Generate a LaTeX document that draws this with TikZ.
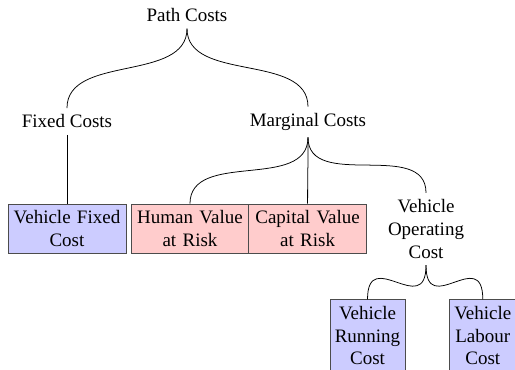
\documentclass[tikz,border=0pt]{standalone}
\usepackage{fontspec}
\setmainfont{Liberation Serif}
\usepackage{xcolor}
\definecolor{lightb}{rgb}{0.8,0.8,1}
\definecolor{lightr}{rgb}{1,0.8,0.8}
\tikzset{
  cost/.style={align=center},
  costbox/.style={draw=black!70, align=center, inner xsep=2.5pt},
  widebox/.style={costbox, text width=57pt}
}

\begin{document}
\begin{tikzpicture}
\useasboundingbox (0,0) rectangle (9.526,-6.844);
\node[cost] (path) at (3.459,-0.281) {Path Costs};
  \node[cost] (fixed) at (1.239,-2.247) {Fixed Costs};
  \node[cost] (marginal) at (5.697,-2.257) {Marginal Costs};
  \node[widebox, fill=lightb] (vfixed) at (1.239,-4.227) {Vehicle Fixed\\Cost};
  \node[widebox, fill=lightr] (human) at (3.514,-4.227) {Human Value\\at Risk};
  \node[widebox, fill=lightr] (capital) at (5.690,-4.227) {Capital Value\\at Risk};
  \node[cost] (operating) at (7.880,-4.236) {Vehicle\\Operating\\Cost};
  \node[costbox, fill=lightb] (running) at (6.798,-6.206) {Vehicle\\Running\\Cost};
  \node[costbox, fill=lightb] (labour) at (8.930,-6.206) {Vehicle\\Labour\\Cost};
\draw (path.south) .. controls +(0,-1cm) and +(0,1cm) .. (fixed.north);
\draw (path.south) .. controls +(0,-1cm) and +(0,1cm) .. (marginal.north);
\draw (fixed.south) .. controls +(0,-1cm) and +(0,1cm) .. (vfixed.north);
\draw (marginal.south) .. controls +(0,-1cm) and +(0,1cm) .. (human.north);
\draw (marginal.south) .. controls +(0,-1cm) and +(0,1cm) .. (capital.north);
\draw (marginal.south) .. controls +(0,-1cm) and +(0,1cm) .. (operating.north);
\draw (operating.south) .. controls +(0,-1cm) and +(0,1cm) .. (running.north);
\draw (operating.south) .. controls +(0,-1cm) and +(0,1cm) .. (labour.north);
\end{tikzpicture}
\end{document}
